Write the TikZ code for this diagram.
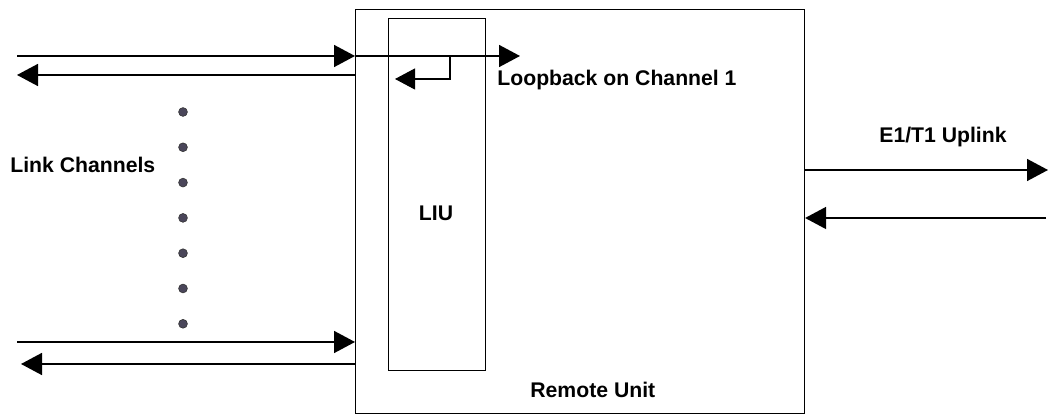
\documentclass[tikz,border=0pt]{standalone}
\usepackage{fontspec}
\setmainfont{Liberation Sans}
\usetikzlibrary{arrows.meta}

\begin{document}
\begin{tikzpicture}[x=0.5pt, y=-0.5pt, font=\fontsize{10.6}{12}\selectfont\bfseries]
\useasboundingbox (0,0) rectangle (1050,415);
\tikzset{link/.style={line width=0.8pt, -{Triangle[length=10.5pt, width=11pt]}},
         loop/.style={line width=0.55pt, -{Triangle[length=10pt, width=10.5pt]}},
         frame/.style={draw, line width=0.55pt, inner sep=0pt, anchor=north west},
         lbl/.style={inner sep=0pt}}
\definecolor{dotc}{RGB}{74,70,90}

% ---- remote unit with its LIU
\node[frame, minimum width=224.5pt, minimum height=202pt] (ru) at (355,9) {};
\node[frame, minimum width=48.5pt, minimum height=176pt] (liu) at (388,18) {};
\node[lbl] (liulbl) at (436,213) {LIU};
\node[lbl, anchor=west] (rulbl) at (530,390) {Remote Unit};

% ---- channel 1, with loopback inside the LIU
\coordinate (in1) at (17,56);
\coordinate (out1) at (17,75);
\coordinate (thru1) at (520,56);
\coordinate (lbtop) at (450,56);
\coordinate (lbend) at (395,79);
\draw[link] (in1) -- (ru.west |- in1);
\draw[link] (ru.west |- in1) -- (thru1);
\draw[link] (ru.west |- out1) -- (out1);
\draw[loop] (lbtop) |- (lbend);
\node[lbl, anchor=west] (lblbl) at (497,80) {Loopback on Channel 1};

% ---- last channel
\coordinate (inN) at (17,342);
\coordinate (outN) at (21,364);
\draw[link] (inN) -- (ru.west |- inN);
\draw[link] (ru.west |- outN) -- (outN);

% ---- dots between the channels
\foreach \k in {0,...,6} {\fill[dotc, draw=black!80, line width=0.3pt] (183,112+35.3*\k) circle (2.2pt);}
\node[lbl, anchor=west] (chlbl) at (10,165) {Link Channels};

% ---- E1/T1 uplink
\coordinate (upout) at (1048,170);
\coordinate (upin) at (1046,218);
\draw[link] (ru.east |- upout) -- (upout);
\draw[link] (upin) -- (ru.east |- upin);
\node[lbl] (uplbl) at (943,137) {E1/T1 Uplink};
\end{tikzpicture}
\end{document}
